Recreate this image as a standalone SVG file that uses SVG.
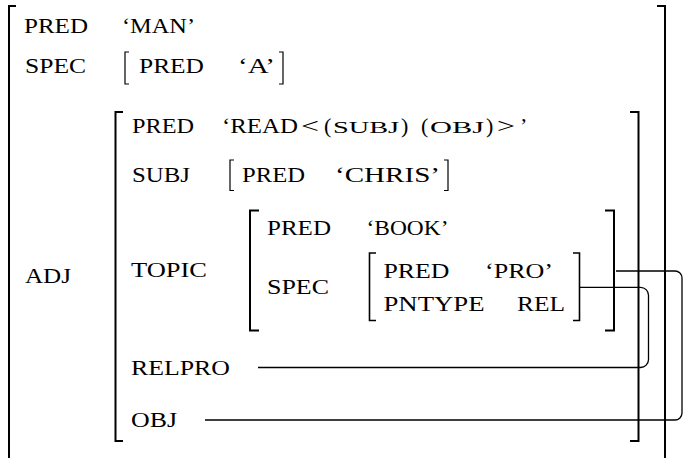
<svg xmlns="http://www.w3.org/2000/svg" width="683" height="458" viewBox="0 0 683 458">
<style>
text{font-family:"Liberation Serif","Times New Roman",serif;font-size:22px;fill:#000}
.sc{font-size:17px}
.bb{fill:none;stroke:#000;stroke-width:2}
.bm{fill:none;stroke:#000;stroke-width:1.6}
.bs{fill:none;stroke:#000;stroke-width:1.2}
.cn{fill:none;stroke:#000;stroke-width:1.3}
</style>
<rect width="683" height="458" fill="#fff"/>
<g id="fs-man">
<path class="bb" d="M16 6H9V470M657 6H665V470"/>
<text x="24" y="33" textLength="64" lengthAdjust="spacingAndGlyphs">PRED</text>
<text x="122" y="33" textLength="73" lengthAdjust="spacingAndGlyphs">‘MAN’</text>
<text x="25" y="73" textLength="61" lengthAdjust="spacingAndGlyphs">SPEC</text>
<text x="25" y="283" textLength="46" lengthAdjust="spacingAndGlyphs">ADJ</text>
</g>
<g id="fs-spec-a">
<path class="bs" d="M129 52H125V84H129M279 52H283V84H279"/>
<text x="139" y="73" textLength="65" lengthAdjust="spacingAndGlyphs">PRED</text>
<text x="238" y="73" textLength="37" lengthAdjust="spacingAndGlyphs">‘A’</text>
</g>
<g id="fs-adj">
<path class="bb" d="M123 112H115.5V441H123M630 112H638.5V441H630"/>
<text x="132" y="132.5" textLength="62" lengthAdjust="spacingAndGlyphs">PRED</text>
<text y="132.5"><tspan x="222" textLength="76" lengthAdjust="spacingAndGlyphs">‘READ</tspan><tspan x="301" textLength="18" lengthAdjust="spacingAndGlyphs">&lt;</tspan><tspan x="324">(</tspan><tspan x="333" class="sc" textLength="66" lengthAdjust="spacingAndGlyphs">SUBJ</tspan><tspan x="401">)</tspan><tspan x="421">(</tspan><tspan x="430" class="sc" textLength="54" lengthAdjust="spacingAndGlyphs">OBJ</tspan><tspan x="486">)</tspan><tspan x="497" textLength="18" lengthAdjust="spacingAndGlyphs">&gt;</tspan><tspan x="520">’</tspan></text>
<text x="132" y="181.5" textLength="58" lengthAdjust="spacingAndGlyphs">SUBJ</text>
<text x="131" y="277" textLength="76" lengthAdjust="spacingAndGlyphs">TOPIC</text>
<text x="131" y="375" textLength="99" lengthAdjust="spacingAndGlyphs">RELPRO</text>
<text x="131" y="426.5" textLength="46" lengthAdjust="spacingAndGlyphs">OBJ</text>
</g>
<g id="fs-chris">
<path class="bs" d="M234 160H230V190.5H234M444 160H448V190.5H444"/>
<text x="242" y="181.5" textLength="63" lengthAdjust="spacingAndGlyphs">PRED</text>
<text x="335" y="181.5" textLength="105" lengthAdjust="spacingAndGlyphs">‘CHRIS’</text>
</g>
<g id="fs-book">
<path class="bb" d="M259 210.5H250V330.5H259M605 210.5H614V330.5H605"/>
<text x="267" y="235" textLength="64" lengthAdjust="spacingAndGlyphs">PRED</text>
<text x="366.5" y="235" textLength="82" lengthAdjust="spacingAndGlyphs">‘BOOK’</text>
<text x="267" y="294" textLength="62" lengthAdjust="spacingAndGlyphs">SPEC</text>
</g>
<g id="fs-pro">
<path class="bm" d="M376 253H369.5V320.5H376M573 253H579.5V320.5H573"/>
<text x="383.5" y="277.5" textLength="66" lengthAdjust="spacingAndGlyphs">PRED</text>
<text x="485" y="277.5" textLength="68" lengthAdjust="spacingAndGlyphs">‘PRO’</text>
<text x="383.5" y="311" textLength="101" lengthAdjust="spacingAndGlyphs">PNTYPE</text>
<text x="517" y="311" textLength="48" lengthAdjust="spacingAndGlyphs">REL</text>
</g>
<g id="connectors">
<path class="cn" d="M616 271H675A7 7 0 0 1 682 278V413A7 7 0 0 1 675 420H205"/>
<path class="cn" d="M580 287.3H640.5A8 8 0 0 1 648.5 295.3V359.5A8 8 0 0 1 640.5 367.5H258"/>
</g>
</svg>
